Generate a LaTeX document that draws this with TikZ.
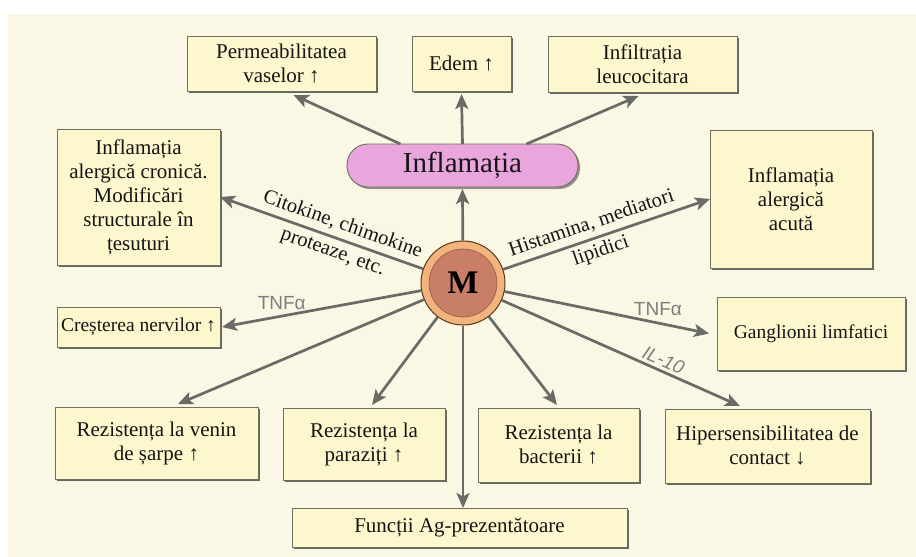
\documentclass[tikz,border=0pt]{standalone}
\usepackage{fontspec}
\setmainfont{Liberation Serif}
\newfontfamily\labsans{Liberation Sans}
\usetikzlibrary{arrows.meta,shadows}
\definecolor{bgcream}{HTML}{FAF8E4}
\definecolor{boxfill}{HTML}{FCF7CC}
\definecolor{boxline}{HTML}{6F6F62}
\definecolor{arrgray}{HTML}{6A6A66}
\definecolor{pillfill}{HTML}{E9A6DD}
\definecolor{ringfill}{HTML}{F2B47C}
\definecolor{corefill}{HTML}{C97F67}
\definecolor{labgray}{HTML}{7E7E7E}
\definecolor{txt}{HTML}{151515}
\begin{document}
\begin{tikzpicture}[x=1pt,y=-1pt,
  box/.style={draw=boxline, line width=0.9pt, fill=boxfill, inner sep=2pt, outer sep=0pt,
    align=center, text=txt, font=\fontsize{21}{24}\selectfont,
    drop shadow={shadow xshift=2.4pt, shadow yshift=-2.4pt, fill=black!70, opacity=0.85}},
  pillbox/.style={draw=boxline, line width=0.9pt, fill=pillfill, rounded corners=21pt,
    inner sep=0pt, outer sep=0pt, text=txt, font=\fontsize{29}{30}\selectfont,
    drop shadow={shadow xshift=2pt, shadow yshift=-2pt, fill=black!60, opacity=0.7}},
  arr/.style={draw=arrgray, line width=2.7pt, -{Stealth[length=15pt,width=13pt,inset=3.5pt]}},
  elab/.style={font=\fontsize{20.5}{29}\selectfont, align=center, inner sep=0pt, text=txt},
  tlab/.style={font=\labsans\fontsize{19}{20}\selectfont, text=labgray, inner sep=0pt}]

\fill[white] (0,0) rectangle (916,557);
\fill[bgcream] (8,14) rectangle (916,557);
\useasboundingbox (0,0) rectangle (916,557);

% boxes
\node[box, minimum width=189pt, minimum height=55pt] (perm) at (281.5,63.5) {Permeabilitatea\\vaselor ↑};
\node[box, minimum width=99pt, minimum height=55pt] (edem) at (461.5,63.5) {Edem ↑};
\node[box, minimum width=189pt, minimum height=56pt] (infl) at (642.5,64) {Infiltrația\\leucocitara};
\node[pillbox, minimum width=231pt, minimum height=43pt] (pill) at (462.5,165.5) {Inflamația};
\node[box, minimum width=163pt, minimum height=136pt] (chronic) at (138.5,197) {Inflamația\\alergică cronică.\\Modificări\\structurale în\\țesuturi};
\node[box, minimum width=162pt, minimum height=138pt] (acute) at (791,199) {Inflamația\\alergică\\acută};
\node[box, minimum width=163pt, minimum height=40pt, font=\fontsize{19.5}{22}\selectfont] (cres) at (138.5,327) {Creșterea nervilor ↑};
\node[box, minimum width=188pt, minimum height=73pt, font=\fontsize{19.5}{22}\selectfont] (gang) at (811,333.5) {Ganglionii limfatici};
\node[box, minimum width=203pt, minimum height=72pt] (venin) at (156.5,443) {Rezistența la venin\\de șarpe ↑};
\node[box, minimum width=162pt, minimum height=72pt] (par) at (364,444) {Rezistența la\\paraziți ↑};
\node[box, minimum width=161pt, minimum height=74pt] (bac) at (558.5,445) {Rezistența la\\bacterii ↑};
\node[box, minimum width=205pt, minimum height=74pt] (hip) at (767.5,446) {Hipersensibilitatea de\\contact ↓};
\node[box, minimum width=335pt, minimum height=39pt] (func) at (459.5,527.5) {Funcții Ag-prezentătoare};

% central cell
\node[circle, minimum size=84pt, inner sep=0pt, fill=ringfill, draw=black!55!brown, line width=1pt] (M) at (463,283) {};
\node[circle, minimum size=68pt, inner sep=0pt, fill=corefill, draw=corefill!70!black, line width=0.6pt,
  text=black, font=\bfseries\fontsize{33}{33}\selectfont] (Mcore) at (M.center) {M};

% arrows from Inflamatia
\draw[arr] ([xshift=-62pt]pill.north) -- ([xshift=12pt,yshift=-4pt]perm.south);
\draw[arr] (pill.north) -- ([yshift=-3pt]edem.south);
\draw[arr] ([xshift=64pt]pill.north) -- ([xshift=-4pt,yshift=-4pt]infl.south);

% arrows from M
\draw[arr] (M) -- ([yshift=-2pt]pill.south);
\draw[arr] (M) -- node[sloped, elab, pos=0.42] {Citokine, chimokine\\proteaze, etc.} (chronic.east);
\draw[arr] (M) -- node[sloped, elab, pos=0.45] {Histamina, mediatori\\lipidici} (acute.west);
\draw[arr] (M) -- node[tlab, pos=0.7, above=5pt] {TNFα} ([xshift=2pt]cres.east);
\draw[arr] (M) -- node[tlab, pos=0.75, above=6pt] {TNFα} ([xshift=-8pt]gang.west);
\draw[arr] (M) -- ([xshift=21.5pt,yshift=3pt]venin.north);
\draw[arr] (M) -- ([xshift=8pt,yshift=3pt]par.north);
\draw[arr] (M) -- (M |- func.north);
\draw[arr] (M) -- ([xshift=-1.5pt,yshift=3pt]bac.north);
\draw[arr] (M) -- node[tlab, sloped, pos=0.66, above=3pt, font=\labsans\itshape\fontsize{19}{20}\selectfont] {IL-10} ([xshift=-27.5pt,yshift=3pt]hip.north);
\end{tikzpicture}
\end{document}
